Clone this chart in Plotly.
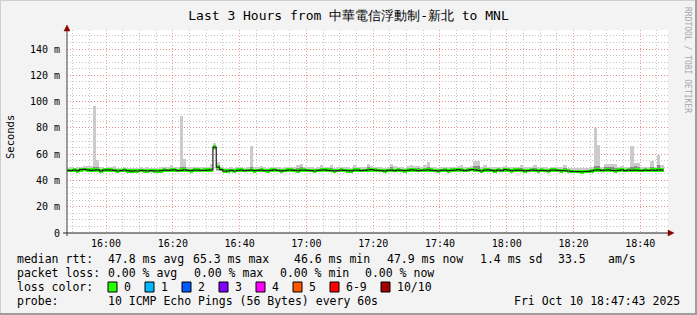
import plotly.graph_objects as go
import pandas as pd

# ---------------- data (ms) : one value per minute, 15:48 .. 18:46 ----------------
start_time = "2025-10-10 15:48:00"

ping_median = [
    47.6, 47.5, 47.8, 47.4, 48.2, 48.4, 48.0, 47.7, 47.9, 48.1,
    47.3, 47.8, 48.0, 47.9, 47.6, 47.2, 47.5, 47.8, 47.4, 47.1,
    47.3, 47.2, 47.6, 47.4, 47.2, 47.5, 47.3, 47.2, 47.4, 47.8,
    47.6, 47.9, 48.0, 47.5, 47.7, 48.0, 47.6, 47.4, 47.9, 47.8,
    47.6, 47.7, 47.9, 48.1, 65.3, 50.2, 48.3, 47.0, 47.3, 47.6,
    47.2, 47.7, 47.9, 47.5, 47.6, 47.8, 47.4, 47.6, 47.9, 47.5,
    47.4, 47.7, 48.0, 47.6, 47.3, 47.5, 47.8, 47.9, 47.6, 47.4,
    47.8, 47.9, 47.6, 47.5, 47.2, 47.6, 47.9, 48.1, 47.7, 47.5,
    47.3, 47.5, 47.8, 47.6, 47.4, 47.3, 47.8, 47.9, 47.5, 47.6,
    48.0, 48.2, 47.8, 47.6, 47.5, 47.3, 47.6, 47.9, 47.5, 47.8,
    47.6, 47.4, 47.7, 48.0, 47.8, 47.5, 47.6, 47.9, 48.1, 47.7,
    47.5, 47.3, 47.6, 47.8, 47.4, 47.7, 47.9, 48.2, 47.8, 47.5,
    47.9, 48.3, 48.0, 47.6, 47.2, 47.8, 48.0, 47.6, 47.3, 47.9,
    47.5, 48.2, 47.8, 47.4, 47.7, 47.9, 47.6, 47.3, 47.5, 47.8,
    47.6, 47.4, 47.7, 47.5, 47.3, 47.8, 47.9, 47.6, 47.4, 47.5,
    47.2, 46.9, 46.8, 46.7, 46.6, 46.8, 46.9, 47.3, 47.8, 48.0,
    47.6, 47.9, 48.1, 47.6, 47.4, 47.7, 48.0, 47.5, 47.8, 47.6,
    47.9, 47.7, 47.5, 47.8, 47.6, 47.9, 47.7, 48.0, 47.9,
]

ping_max = [
    49.8, 50.5, 49.6, 49.9, 50.4, 50.8, 50.9, 51.2, 97.0, 55.7,
    50.1, 49.8, 50.3, 50.0, 51.3, 49.6, 49.7, 50.2, 49.8, 49.5,
    49.4, 49.6, 49.9, 49.5, 50.2, 49.7, 49.4, 49.8, 50.1, 50.3,
    49.9, 52.0, 50.6, 50.2, 89.0, 56.0, 50.4, 49.9, 50.3, 50.1,
    50.0, 50.2, 50.4, 52.2, 68.5, 53.7, 50.6, 49.8, 49.7, 50.0,
    49.6, 50.1, 50.3, 49.8, 50.0, 66.0, 50.5, 50.2, 50.8, 49.9,
    49.8, 50.4, 50.5, 50.0, 49.8, 49.9, 50.3, 50.4, 50.1, 52.0,
    52.8, 50.6, 50.2, 49.9, 49.7, 50.2, 52.0, 50.5, 50.1, 52.0,
    49.8, 50.0, 50.4, 50.2, 49.9, 49.7, 52.0, 50.6, 50.0, 50.1,
    52.2, 50.8, 50.4, 50.1, 49.9, 49.8, 50.2, 52.2, 51.0, 50.2,
    50.0, 49.8, 51.2, 51.4, 51.0, 51.2, 50.6, 52.0, 53.7, 50.4,
    50.0, 49.8, 50.2, 50.4, 50.0, 50.3, 50.6, 51.0, 52.0, 50.2,
    50.6, 51.2, 54.5, 54.5, 50.0, 52.0, 50.6, 50.2, 49.9, 50.6,
    50.1, 50.8, 50.4, 50.0, 50.3, 50.6, 52.0, 49.9, 50.2, 50.4,
    52.0, 50.0, 50.3, 50.1, 49.8, 50.4, 50.6, 50.2, 50.0, 52.0,
    49.8, 49.6, 49.5, 49.4, 49.3, 49.5, 49.6, 50.0, 80.0, 67.0,
    50.4, 52.7, 52.7, 52.7, 52.7, 50.6, 50.8, 50.2, 50.4, 66.4,
    53.0, 53.0, 50.2, 50.6, 50.3, 54.5, 50.4, 59.0, 52.0,
]

ping_min = [
    46.5, 46.3, 46.6, 46.2, 46.9, 47.0, 46.7, 46.4, 46.6, 46.8,
    46.2, 46.5, 46.8, 46.6, 46.3, 46.0, 46.3, 46.5, 46.2, 45.9,
    46.1, 46.0, 46.4, 46.2, 46.0, 46.3, 46.1, 46.0, 46.2, 46.5,
    46.4, 46.6, 46.8, 46.3, 46.4, 46.7, 46.3, 46.2, 46.6, 46.5,
    46.4, 46.5, 46.6, 46.9, 63.5, 47.4, 46.9, 45.8, 46.0, 46.3,
    46.0, 46.4, 46.6, 46.3, 46.4, 46.5, 46.2, 46.3, 46.6, 46.3,
    46.2, 46.5, 46.7, 46.4, 46.1, 46.3, 46.5, 46.6, 46.3, 46.2,
    46.5, 46.6, 46.4, 46.2, 46.0, 46.3, 46.6, 46.8, 46.4, 46.3,
    46.1, 46.3, 46.5, 46.3, 46.2, 46.1, 46.5, 46.6, 46.2, 46.4,
    46.7, 46.9, 46.5, 46.4, 46.3, 46.1, 46.4, 46.6, 46.2, 46.5,
    46.3, 46.2, 46.4, 46.7, 46.5, 46.2, 46.4, 46.6, 46.8, 46.4,
    46.2, 46.1, 46.4, 46.5, 46.2, 46.4, 46.6, 46.9, 46.5, 46.3,
    46.6, 47.0, 46.7, 46.3, 46.0, 46.5, 46.7, 46.3, 46.1, 46.6,
    46.2, 46.9, 46.5, 46.2, 46.4, 46.6, 46.3, 46.1, 46.2, 46.5,
    46.3, 46.2, 46.4, 46.2, 46.1, 46.5, 46.6, 46.3, 46.2, 46.2,
    46.0, 45.8, 45.7, 45.6, 45.5, 45.7, 45.8, 46.1, 46.5, 46.7,
    46.3, 46.6, 46.8, 46.3, 46.2, 46.4, 46.7, 46.2, 46.5, 46.3,
    46.6, 46.4, 46.2, 46.5, 46.3, 46.6, 46.4, 46.7, 46.6,
]

ping_upper_q = [
    48.6, 48.4, 49.2, 48.3, 49.0, 49.3, 49.5, 49.0, 50.5, 50.2,
    48.3, 49.0, 49.1, 49.4, 48.6, 48.1, 48.4, 48.8, 48.3, 48.0,
    48.2, 48.1, 48.6, 48.3, 48.9, 48.4, 48.2, 48.1, 48.4, 48.9,
    48.6, 49.8, 49.0, 48.5, 50.5, 50.0, 48.6, 48.3, 49.2, 48.8,
    48.6, 48.7, 49.0, 49.6, 66.5, 51.8, 49.5, 48.0, 48.3, 48.6,
    48.1, 48.7, 49.0, 48.4, 48.6, 50.0, 48.4, 48.6, 49.3, 48.5,
    48.4, 48.8, 49.1, 48.6, 48.2, 48.5, 48.9, 49.0, 48.6, 49.5,
    50.0, 49.0, 48.6, 48.5, 48.1, 48.6, 49.8, 49.2, 48.7, 49.6,
    48.3, 48.5, 48.9, 48.6, 48.4, 48.3, 49.8, 49.0, 48.5, 48.6,
    49.9, 49.3, 48.9, 48.6, 48.5, 48.3, 48.6, 49.9, 49.0, 48.9,
    48.6, 48.4, 49.6, 49.8, 49.5, 49.6, 48.6, 49.8, 50.5, 48.7,
    48.5, 48.3, 48.6, 48.9, 48.4, 48.7, 49.0, 49.5, 49.8, 48.5,
    49.0, 49.6, 51.2, 51.0, 48.2, 49.8, 49.1, 48.6, 48.3, 49.0,
    48.5, 49.4, 48.9, 48.4, 48.7, 49.0, 49.8, 48.3, 48.5, 48.9,
    49.8, 48.4, 48.7, 48.5, 48.3, 48.9, 49.0, 48.6, 48.4, 49.6,
    48.1, 47.8, 47.7, 47.6, 47.5, 47.7, 47.8, 48.4, 51.0, 50.8,
    48.6, 50.5, 50.4, 50.0, 49.8, 48.8, 49.1, 48.5, 48.9, 50.5,
    50.8, 50.5, 48.5, 48.9, 48.6, 50.6, 48.8, 51.5, 49.8,
]

ping_lower_q = [
    47.0, 46.9, 47.2, 46.8, 47.5, 47.8, 47.3, 47.0, 47.2, 47.4,
    46.7, 47.1, 47.3, 47.2, 46.9, 46.5, 46.8, 47.1, 46.7, 46.4,
    46.6, 46.5, 46.9, 46.7, 46.5, 46.8, 46.6, 46.5, 46.7, 47.1,
    46.9, 47.2, 47.3, 46.8, 47.0, 47.3, 46.9, 46.7, 47.2, 47.1,
    46.9, 47.0, 47.2, 47.4, 64.6, 48.3, 47.5, 46.3, 46.6, 46.9,
    46.5, 47.0, 47.2, 46.8, 46.9, 47.1, 46.7, 46.9, 47.2, 46.8,
    46.7, 47.0, 47.3, 46.9, 46.6, 46.8, 47.1, 47.2, 46.9, 46.7,
    47.1, 47.2, 46.9, 46.8, 46.5, 46.9, 47.2, 47.4, 47.0, 46.8,
    46.6, 46.8, 47.1, 46.9, 46.7, 46.6, 47.1, 47.2, 46.8, 46.9,
    47.3, 47.5, 47.1, 46.9, 46.8, 46.6, 46.9, 47.2, 46.8, 47.1,
    46.9, 46.7, 47.0, 47.3, 47.1, 46.8, 46.9, 47.2, 47.4, 47.0,
    46.8, 46.6, 46.9, 47.1, 46.7, 47.0, 47.2, 47.5, 47.1, 46.8,
    47.2, 47.6, 47.3, 46.9, 46.5, 47.1, 47.3, 46.9, 46.6, 47.2,
    46.8, 47.5, 47.1, 46.7, 47.0, 47.2, 46.9, 46.6, 46.8, 47.1,
    46.9, 46.7, 47.0, 46.8, 46.6, 47.1, 47.2, 46.9, 46.7, 46.8,
    46.5, 46.2, 46.1, 46.0, 45.9, 46.1, 46.2, 46.6, 47.1, 47.3,
    46.9, 47.2, 47.4, 46.9, 46.7, 47.0, 47.3, 46.8, 47.1, 46.9,
    47.2, 47.0, 46.8, 47.1, 46.9, 47.2, 47.0, 47.3, 47.2,
]

y_tick_values = [0, 20, 40, 60, 80, 100, 120, 140]
y_tick_labels = ["0", "20 m", "40 m", "60 m", "80 m", "100 m", "120 m", "140 m"]

title_text = "Last 3 Hours from 中華電信浮動制-新北 to MNL"
loss_labels = ["0", "1", "2", "3", "4", "5", "6-9", "10/10"]
loss_colors = ["#26ff00", "#00b8ff", "#0059ff", "#7e00ff", "#ff00ff", "#ff5500", "#ff0000", "#a10000"]

# ---------------- geometry ----------------
W, H = 697, 315
PL, PR, PT, PB = 67, 668, 30, 233
FONT = "DejaVu Sans Mono"


def px(x):
    return (x - PL) / (PR - PL)


def py(y):
    return (PB - y) / (PB - PT)


n = len(ping_median)
bin_start = pd.date_range(start_time, periods=n, freq="min")
bin_center = bin_start + pd.Timedelta(seconds=30)
step_x = list(bin_start) + [bin_start[-1] + pd.Timedelta(minutes=1)]
BAR_W = 60000

fig = go.Figure()

# outer smoke (light grey)
fig.add_trace(go.Bar(
    x=bin_center, base=ping_min,
    y=[a - b for a, b in zip(ping_max, ping_min)],
    width=BAR_W, marker=dict(color="#cbcbcb", line=dict(width=0)), hoverinfo="skip"))
# inner smoke (darker grey)
fig.add_trace(go.Bar(
    x=bin_center, base=ping_lower_q,
    y=[a - b for a, b in zip(ping_upper_q, ping_lower_q)],
    width=BAR_W, marker=dict(color="#8a8a8a", line=dict(width=0)), hoverinfo="skip"))
# median line (thin, dark)
fig.add_trace(go.Scatter(
    x=step_x, y=ping_median + [ping_median[-1]], mode="lines",
    line=dict(shape="hv", color="#202020", width=1.2), hoverinfo="skip"))
# median band, colored by loss (0 loss -> green)
BAND = 2.8
fig.add_trace(go.Bar(
    x=bin_center, base=[m - BAND / 2 for m in ping_median], y=[BAND] * n,
    width=BAR_W, marker=dict(color=loss_colors[0], line=dict(width=0)), hoverinfo="skip"))

grid_major = "rgba(235,120,120,0.75)"
grid_minor = "rgba(150,150,150,0.55)"

fig.update_layout(
    width=W, height=H,
    margin=dict(l=PL, r=W - PR, t=PT, b=H - PB, pad=0),
    paper_bgcolor="#f3f3f3", plot_bgcolor="#ffffff",
    barmode="overlay", bargap=0, showlegend=False,
    font=dict(family=FONT, size=10, color="#000000"),
    title=dict(text=title_text, x=0.5, xanchor="center", y=1 - 15 / H, yanchor="middle",
               font=dict(family=FONT, size=13, color="#000000")),
    xaxis=dict(
        type="date",
        range=["2025-10-10 15:48:18", "2025-10-10 18:48:18"],
        tick0="2025-10-10 16:00:00", dtick=20 * 60 * 1000, tickformat="%H:%M",
        showgrid=True, gridcolor=grid_major, griddash="1px,2px", gridwidth=1,
        minor=dict(dtick=5 * 60 * 1000, tick0="2025-10-10 16:00:00", showgrid=True,
                   gridcolor=grid_minor, griddash="1px,2px", gridwidth=1),
        showline=False, zeroline=False, ticks="", ticklabelstandoff=3,
        tickfont=dict(family=FONT, size=10, color="#000000"),
        fixedrange=True,
    ),
    yaxis=dict(
        range=[0, 154.5],
        tickmode="array", tickvals=y_tick_values, ticktext=y_tick_labels,
        showgrid=True, gridcolor=grid_major, griddash="1px,2px", gridwidth=1,
        minor=dict(tickmode="linear", tick0=0, dtick=5, showgrid=True,
                   gridcolor=grid_minor, griddash="1px,2px", gridwidth=1),
        showline=False, zeroline=False, ticks="", ticklabelstandoff=6,
        tickfont=dict(family=FONT, size=10, color="#000000"),
        fixedrange=True,
    ),
)

shapes = []
# frame shading
shapes.append(dict(type="rect", xref="paper", yref="paper", x0=px(0), x1=px(W), y0=py(0), y1=py(1),
                   fillcolor="#cfcfcf", line=dict(width=0), layer="below"))
shapes.append(dict(type="rect", xref="paper", yref="paper", x0=px(0), x1=px(1), y0=py(0), y1=py(H),
                   fillcolor="#cfcfcf", line=dict(width=0), layer="below"))
shapes.append(dict(type="rect", xref="paper", yref="paper", x0=px(W - 2), x1=px(W), y0=py(0), y1=py(H),
                   fillcolor="#9e9e9e", line=dict(width=0)))
shapes.append(dict(type="rect", xref="paper", yref="paper", x0=px(0), x1=px(W), y0=py(H - 2), y1=py(H),
                   fillcolor="#9e9e9e", line=dict(width=0)))
# axes
shapes.append(dict(type="line", xref="paper", yref="paper", x0=px(PL), x1=px(PL), y0=py(PB + 3), y1=py(28),
                   line=dict(color="#404040", width=1)))
shapes.append(dict(type="line", xref="paper", yref="paper", x0=px(PL - 4), x1=px(670), y0=py(PB), y1=py(PB),
                   line=dict(color="#202020", width=1)))
# arrow heads
shapes.append(dict(type="path", xref="paper", yref="paper",
                   path=f"M {px(PL-3)} {py(31)} L {px(PL+3)} {py(31)} L {px(PL)} {py(25)} Z",
                   fillcolor="#8b0000", line=dict(color="#8b0000", width=0.5)))
shapes.append(dict(type="path", xref="paper", yref="paper",
                   path=f"M {px(668)} {py(PB-3)} L {px(668)} {py(PB+3)} L {px(674)} {py(PB)} Z",
                   fillcolor="#8b0000", line=dict(color="#8b0000", width=0.5)))

annotations = []


def ann(text, x, y, size=11, anchor="left", color="#000000", angle=0):
    annotations.append(dict(text=text, x=px(x), y=py(y), xref="paper", yref="paper",
                            xanchor=anchor, yanchor="middle", showarrow=False, textangle=angle,
                            borderpad=0, font=dict(family=FONT, size=size, color=color)))


ann("Seconds", 10, 137, size=10.5, anchor="center", angle=-90)
ann("RRDTOOL / TOBI OETIKER", 688, 60, size=8, anchor="center", color="#a8a8a8", angle=90)

LS = 11.5
r1, r2, r3, r4 = 259, 273, 287, 301
ann("median rtt:", 16, r1, LS)
ann("47.8 ms avg", 107, r1, LS)
ann("65.3 ms max", 192, r1, LS)
ann("46.6 ms min", 293, r1, LS)
ann("47.9 ms now", 386, r1, LS)
ann("1.4 ms sd", 479, r1, LS)
ann("33.5", 557, r1, LS)
ann("am/s", 607, r1, LS)

ann("packet loss:", 16, r2, LS)
ann("0.00 % avg", 107, r2, LS)
ann("0.00 % max", 193, r2, LS)
ann("0.00 % min", 279, r2, LS)
ann("0.00 % now", 364, r2, LS)

ann("loss color:", 16, r3, LS)
box_x = [108, 145, 182, 219, 256, 293, 330, 381]
for bx, lab, col in zip(box_x, loss_labels, loss_colors):
    shapes.append(dict(type="rect", xref="paper", yref="paper", x0=px(bx), x1=px(bx + 9),
                       y0=py(r3 + 5), y1=py(r3 - 5), fillcolor=col, line=dict(color="#000000", width=1)))
    ann(lab, bx + 15, r3, LS)

ann("probe:", 16, r4, LS)
ann("10 ICMP Echo Pings (56 Bytes) every 60s", 107, r4, LS)
ann("Fri Oct 10 18:47:43 2025", 681, r4, LS, anchor="right")

fig.update_layout(shapes=shapes, annotations=annotations)

fig.write_html("out.html", config={"displayModeBar": False, "staticPlot": True})
